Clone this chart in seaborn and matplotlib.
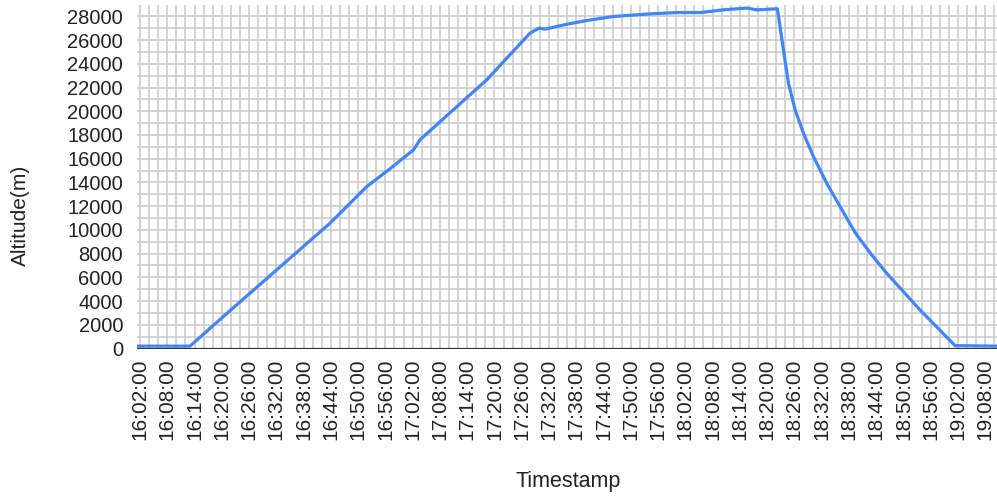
import matplotlib
matplotlib.use("Agg")
import matplotlib.pyplot as plt
import matplotlib.dates as mdates
from matplotlib.ticker import MultipleLocator, FixedLocator
import seaborn as sns
import pandas as pd

# ---- data ----
timestamps = [
    "16:01:20", "16:13:00", "16:21:48", "16:33:00", "16:43:48", "16:51:54",
    "16:57:00", "17:02:10", "17:03:38", "17:10:30", "17:18:18", "17:27:50",
    "17:29:50", "17:31:06", "17:35:30", "17:40:18", "17:46:10", "17:54:15",
    "18:00:08", "18:05:18", "18:10:24", "18:15:32", "18:17:44", "18:22:16",
    "18:23:36", "18:24:42", "18:26:10", "18:28:00", "18:30:12", "18:33:08",
    "18:36:04", "18:39:30", "18:43:00", "18:46:20", "18:53:40", "19:01:22",
    "19:10:36",
]
altitude = [
    200, 200, 3190, 6940, 10560, 13650,
    15150, 16740, 17600, 19970, 22650, 26590,
    27010, 26920, 27300, 27650, 27990, 28210,
    28320, 28320, 28550, 28700, 28550, 28640,
    25180, 22370, 20120, 18150, 16180, 13930,
    11960, 9700, 7900, 6340, 3250, 240,
    200,
]
y_ticks = list(range(0, 28001, 2000))
x_tick_labels = [
    "16:02:00", "16:08:00", "16:14:00", "16:20:00", "16:26:00", "16:32:00",
    "16:38:00", "16:44:00", "16:50:00", "16:56:00", "17:02:00", "17:08:00",
    "17:14:00", "17:20:00", "17:26:00", "17:32:00", "17:38:00", "17:44:00",
    "17:50:00", "17:56:00", "18:02:00", "18:08:00", "18:14:00", "18:20:00",
    "18:26:00", "18:32:00", "18:38:00", "18:44:00", "18:50:00", "18:56:00",
    "19:02:00", "19:08:00",
]

day = "2020-01-01 "
df = pd.DataFrame({
    "Timestamp": pd.to_datetime([day + t for t in timestamps]),
    "Altitude": altitude,
})
tick_pos = pd.to_datetime([day + t for t in x_tick_labels])

sns.set_theme(style="white")
plt.rcParams["font.family"] = ["Liberation Sans", "DejaVu Sans"]

W, H = 997, 497
fig = plt.figure(figsize=(W / 100, H / 100), dpi=100)
left, right, top, bottom = 137, 997, 4.5, 348.5
ax = fig.add_axes([left / W, (H - bottom) / H, (right - left) / W, (bottom - top) / H])

sns.lineplot(data=df, x="Timestamp", y="Altitude", ax=ax, color="#4285F4",
             linewidth=2.3, zorder=4)

ax.set_xlim(df["Timestamp"].iloc[0], df["Timestamp"].iloc[-1])
ax.set_ylim(0, 29000)

ax.xaxis.set_major_locator(FixedLocator(mdates.date2num(tick_pos)))
ax.set_xticklabels(x_tick_labels, rotation=90, fontsize=15, color="#222222")
ax.xaxis.set_minor_locator(mdates.MinuteLocator(byminute=range(0, 60, 2)))
ax.yaxis.set_major_locator(FixedLocator(y_ticks))
ax.set_yticklabels([str(v) for v in y_ticks], fontsize=14.5, color="#222222")
ax.yaxis.set_minor_locator(MultipleLocator(1000))

ax.grid(True, which="both", color="#cccccc", linewidth=1.2, zorder=0)
ax.set_axisbelow(True)
ax.tick_params(axis="both", which="both", length=0)
ax.tick_params(axis="x", pad=7)
ax.tick_params(axis="y", pad=10)
for s in ax.spines.values():
    s.set_visible(False)
ax.axhline(0, color="#333333", linewidth=1.6, zorder=3)

ax.set_xlabel("")
ax.set_ylabel("")
fig.text(568 / W, 1 - 482 / H, "Timestamp", ha="center", va="center",
         fontsize=15.5, color="#222222")
fig.text(20 / W, 1 - 215 / H, "Altitude(m)", ha="center", va="center",
         rotation=90, fontsize=15, color="#222222")

fig.savefig("out.png", dpi=100, facecolor="white")
